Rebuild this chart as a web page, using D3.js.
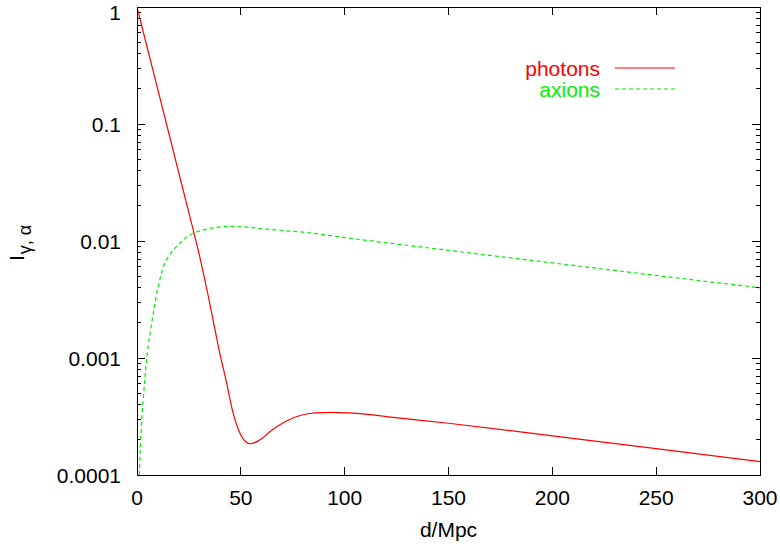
<!DOCTYPE html>
<html>
<head>
<meta charset="utf-8">
<script src="https://cdn.jsdelivr.net/npm/d3@7"></script>
<style>
  html, body { margin: 0; padding: 0; background: #fff; }
  svg { display: block; }
  text { font-family: "Liberation Sans", Arial, Helvetica, sans-serif; }
</style>
</head>
<body>
<svg id="chart" width="780" height="548"></svg>
<script>
// ---- data ----
const photonD = [0, 5, 10, 15, 20, 25, 30, 35, 40, 43, 46, 49, 52, 54.5, 57, 60, 64, 68, 73, 79, 86, 94, 102, 110, 120, 150, 200, 250, 300];
const photonI = [1, 0.444, 0.198, 0.088, 0.039, 0.0174, 0.0076, 0.00295, 0.00107, 0.00063, 0.000355, 0.00024, 0.000195, 0.000185, 0.00019, 0.000204, 0.000234, 0.000263, 0.000295, 0.000324, 0.000339, 0.000343, 0.000339, 0.000331, 0.000316, 0.000277, 0.000216, 0.000168, 0.00013];
const axionD = [1.1, 2, 3, 4.5, 6.3, 8, 9.5, 11, 12.7, 15, 17.5, 20, 23, 27, 32, 38, 45, 52, 60, 70, 80, 100, 150, 200, 250, 300];
const axionI = [0.0001, 0.00024, 0.00044, 0.00093, 0.00162, 0.00251, 0.00357, 0.00468, 0.00604, 0.00724, 0.00838, 0.00933, 0.0105, 0.01164, 0.01245, 0.01303, 0.01334, 0.01318, 0.01274, 0.0123, 0.01189, 0.0107, 0.00832, 0.0065, 0.00508, 0.00398];
const xTicks = [0, 50, 100, 150, 200, 250, 300];
const yTicks = [1e-4, 1e-3, 1e-2, 1e-1, 1];
const yTickLabels = ["0.0001", "0.001", "0.01", "0.1", "1"];
const seriesNames = ["photons", "axions"];
const seriesColors = ["#ff0000", "#00f000"];

// ---- layout ----
const L = 137, R = 760, T = 7, B = 475;
const svg = d3.select("#chart");
const x = d3.scaleLinear().domain([0, 300]).range([L, R]);
const y = d3.scaleLog().domain([1e-4, 1]).range([B, T]);

// minor log ticks
const minorY = [];
for (let e = -4; e < 0; e++) for (let m = 2; m <= 9; m++) minorY.push(m * Math.pow(10, e));

const axisG = svg.append("g").attr("stroke", "#000").attr("stroke-width", 1).attr("shape-rendering", "crispEdges");
yTicks.forEach(v => {
  axisG.append("line").attr("x1", L).attr("x2", L + 8).attr("y1", y(v)).attr("y2", y(v));
  axisG.append("line").attr("x1", R).attr("x2", R - 8).attr("y1", y(v)).attr("y2", y(v));
});
minorY.forEach(v => {
  axisG.append("line").attr("x1", L).attr("x2", L + 4).attr("y1", y(v)).attr("y2", y(v));
  axisG.append("line").attr("x1", R).attr("x2", R - 4).attr("y1", y(v)).attr("y2", y(v));
});
xTicks.forEach(v => {
  axisG.append("line").attr("x1", x(v)).attr("x2", x(v)).attr("y1", B).attr("y2", B - 8);
  axisG.append("line").attr("x1", x(v)).attr("x2", x(v)).attr("y1", T).attr("y2", T + 8);
});

// tick labels (top label kept inside the canvas)
svg.append("g").selectAll("text").data(yTicks).join("text")
  .attr("x", 121).attr("y", d => Math.max(y(d) + 7.5, 19.5))
  .attr("text-anchor", "end").attr("font-size", 21).attr("fill", "#000")
  .text((d, i) => yTickLabels[i]);
svg.append("g").selectAll("text").data(xTicks).join("text")
  .attr("x", d => x(d)).attr("y", 505)
  .attr("text-anchor", "middle").attr("font-size", 21).attr("fill", "#000")
  .text(d => d);

// axis titles
svg.append("text").attr("x", (L + R) / 2).attr("y", 537).attr("text-anchor", "middle")
  .attr("font-size", 21).attr("fill", "#000").text("d/Mpc");
const yl = svg.append("text").attr("transform", "translate(24,261) rotate(-90)")
  .attr("font-size", 21).attr("fill", "#000");
yl.append("tspan").text("I");
yl.append("tspan").attr("dy", 7).attr("dx", 1).attr("font-size", 18).text("γ, α");

// clip
svg.append("clipPath").attr("id", "clip").append("rect")
  .attr("x", L).attr("y", T).attr("width", R - L).attr("height", B - T);

const line = d3.line().x(d => x(d[0])).y(d => y(d[1])).curve(d3.curveMonotoneX);
const photonData = photonD.map((d, i) => [d, photonI[i]]);
const axionData = axionD.map((d, i) => [d, axionI[i]]);

const plot = svg.append("g").attr("clip-path", "url(#clip)");
plot.append("path").datum(axionData).attr("d", line).attr("fill", "none")
  .attr("stroke", seriesColors[1]).attr("stroke-width", 1.2).attr("stroke-dasharray", "4,3");
plot.append("path").datum(photonData).attr("d", line).attr("fill", "none")
  .attr("stroke", seriesColors[0]).attr("stroke-width", 1.2);

// frame
svg.append("rect").attr("x", L).attr("y", T).attr("width", R - L).attr("height", B - T)
  .attr("fill", "none").attr("stroke", "#000").attr("stroke-width", 1).attr("shape-rendering", "crispEdges");

// legend
const legY = [76, 97];
seriesNames.forEach((name, i) => {
  svg.append("text").attr("x", 600).attr("y", legY[i]).attr("text-anchor", "end")
    .attr("font-size", 21).attr("fill", seriesColors[i]).text(name);
  svg.append("line").attr("x1", 615).attr("x2", 675).attr("y1", legY[i] - 8).attr("y2", legY[i] - 8)
    .attr("stroke", seriesColors[i]).attr("stroke-width", 1.2)
    .attr("stroke-dasharray", i === 1 ? "4,3" : null);
});
</script>
</body>
</html>
